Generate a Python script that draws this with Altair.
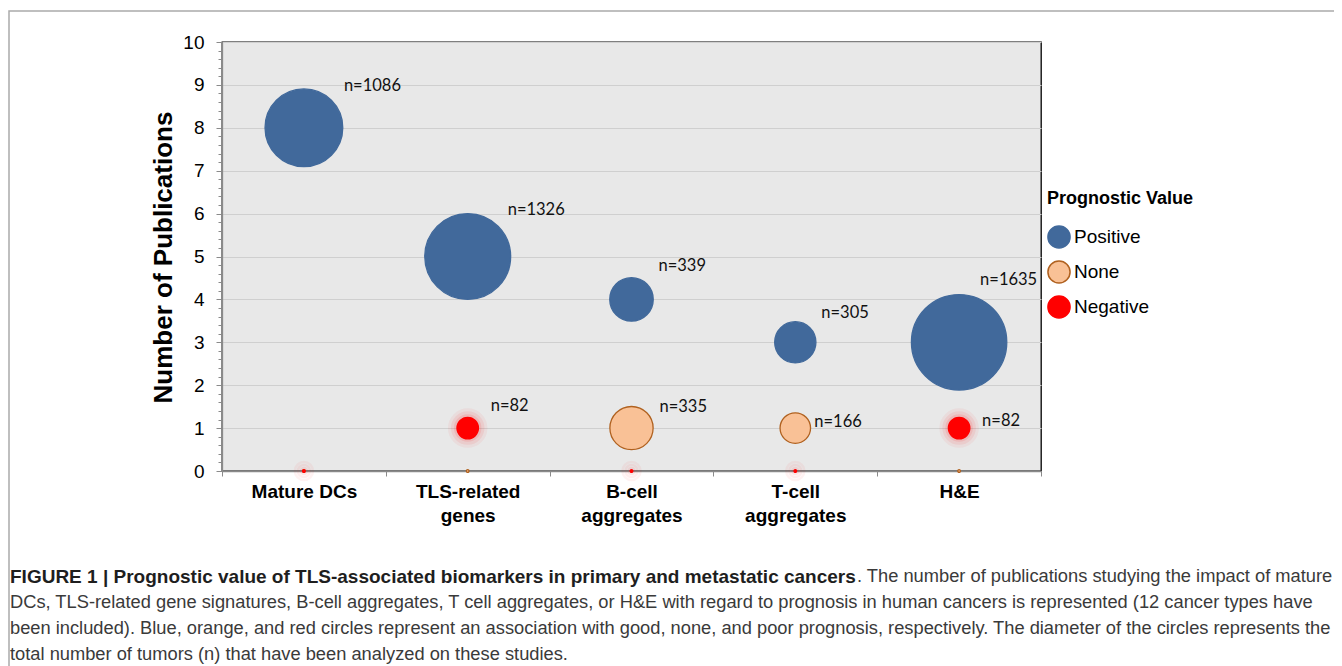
import altair as alt
import pandas as pd

# ---------------- data ----------------
categories = ["Mature DCs", "TLS-related\ngenes", "B-cell\naggregates", "T-cell\naggregates", "H&E"]
prognosis = ["Positive", "None", "Negative"]

pubs_positive = [8, 5, 4, 3, 3]
pubs_none = [0, 0, 1, 1, 0]
pubs_negative = [0, 1, 0, 0, 1]

tumors_positive = [1086, 1326, 339, 305, 1635]
tumors_none = [0, 0, 335, 166, 0]
tumors_negative = [0, 82, 0, 0, 82]

# label anchors (data units on the y axis) and horizontal nudges (px)
label_y_positive = [8.97, 6.08, 4.77, 3.68, 4.46]
label_dx_positive = [40, 40, 27, 26, 21]
label_y_none = [None, None, 1.50, 1.14, None]
label_dx_none = [0, 0, 28, 19, 0]
label_y_negative = [None, 1.515, None, None, 1.165]
label_dx_negative = [0, 23, 0, 0, 23]

caption_bold = "FIGURE 1 | Prognostic value of TLS-associated biomarkers in primary and metastatic cancers"
caption_lines = [
    ". The number of publications studying the impact of mature",
    "DCs, TLS-related gene signatures, B-cell aggregates, T cell aggregates, or H&E with regard to prognosis in human cancers is represented (12 cancer types have",
    "been included). Blue, orange, and red circles represent an association with good, none, and poor prognosis, respectively. The diameter of the circles represents the",
    "total number of tumors (n) that have been analyzed on these studies.",
]

y_tick_values = [i / 5 for i in range(51)]

# ---------------- tables ----------------
rows = []
labels = []
for prog, pubs, tum, ly, ldx in [
    ("Positive", pubs_positive, tumors_positive, label_y_positive, label_dx_positive),
    ("None", pubs_none, tumors_none, label_y_none, label_dx_none),
    ("Negative", pubs_negative, tumors_negative, label_y_negative, label_dx_negative),
]:
    for c, p, t, yy, dd in zip(categories, pubs, tum, ly, ldx):
        rows.append({"category": c, "prog": prog, "pubs": p, "n": t})
        if t > 0 and yy is not None:
            labels.append({"category": c, "pubs": yy, "dx": dd, "text": f"n={t}"})

df = pd.DataFrame(rows)

W, H = 819, 429
FONT = "Liberation Sans"

x_enc = alt.X(
    "category:N",
    sort=categories,
    scale=alt.Scale(domain=categories, paddingInner=0, paddingOuter=0),
    axis=alt.Axis(
        title=None,
        labelAngle=0,
        tickBand="extent",
        labelExpr="split(datum.label, '\\n')",
        labelFont=FONT,
        labelFontWeight="bold",
        labelFontSize=19,
        labelLineHeight=24,
        labelColor="#000000",
        labelPadding=6,
        tickSize=5,
        tickColor="#8a8a8a",
        domainColor="#8a8a8a",
        domainWidth=1.3,
        grid=False,
    ),
)

int_test = "abs(datum.value - round(datum.value)) < 0.001"
y_scale = alt.Scale(domain=[0, 10], nice=False, zero=True)
y_enc = alt.Y(
    "pubs:Q",
    scale=y_scale,
    axis=alt.Axis(
        title="Number of Publications",
        titleFont=FONT,
        titleFontSize=26,
        titleFontWeight="bold",
        titleColor="#000000",
        titleX=-59,
        titleY=215,
        titleAngle=-90,
        titleAlign="center",
        titleBaseline="middle",
        values=y_tick_values,
        labelExpr=f"{int_test} ? format(datum.value, '.0f') : ''",
        labelOverlap=False,
        labelFont=FONT,
        labelFontSize=19,
        labelColor="#000000",
        labelPadding=12,
        tickSize={"condition": {"test": int_test, "value": 6}, "value": 4},
        tickColor="#8a8a8a",
        domainColor="#8a8a8a",
        domainWidth=1.3,
        grid=True,
        gridColor="#cfcfcf",
        gridWidth=1,
        gridOpacity={"condition": {"test": int_test, "value": 1}, "value": 0},
    ),
)

size_enc = alt.Size(
    "n:Q",
    scale=alt.Scale(type="linear", domain=[0, 1635], range=[7, 9098]),
    legend=None,
)

legend = alt.Legend(
    title="Prognostic Value",
    orient="none",
    legendX=825,
    legendY=148,
    titleFont=FONT,
    titleFontSize=18,
    titleFontWeight="bold",
    titleColor="#000000",
    titlePadding=17,
    labelFont=FONT,
    labelFontSize=19,
    labelColor="#000000",
    labelOffset=3,
    symbolType="circle",
    symbolSize=490,
    symbolStrokeWidth=1.5,
    rowPadding=5,
    padding=0,
)

fill_enc = alt.Fill(
    "prog:N",
    sort=prognosis,
    scale=alt.Scale(domain=prognosis, range=["#41699b", "#f9c196", "#ff0000"]),
    legend=legend,
)
stroke_enc = alt.Stroke(
    "prog:N",
    sort=prognosis,
    scale=alt.Scale(domain=prognosis, range=["#41699b", "#b0611f", "#ff0000"]),
    legend=legend,
)

base = alt.Chart(df)

halos = []
for sw, op in [(18, 0.05), (12, 0.07), (6, 0.1)]:
    halos.append(
        base.transform_filter("datum.prog == 'Negative'")
        .mark_point(shape="circle", filled=False, color="#ff0000", strokeWidth=sw, strokeOpacity=op, opacity=1)
        .encode(x=x_enc, y=y_enc, size=size_enc)
    )

bubbles = base.mark_point(shape="circle", filled=True, opacity=1, strokeWidth=1.3).encode(
    x=x_enc, y=y_enc, size=size_enc, fill=fill_enc, stroke=stroke_enc
)

label_layers = []
for lab in labels:
    label_layers.append(
        alt.Chart(alt.Data(values=[lab]))
        .mark_text(align="left", baseline="middle", dx=lab["dx"], font="Lato", fontSize=16.5, color="#111111")
        .encode(x=x_enc, y=y_enc, text="text:N")
    )

one = alt.Data(values=[{"k": 1}])
CAP_FONT = "Liberation Sans"
cap_x = -212
cap_y0 = 535
cap_step = 26
cap_layers = [
    alt.Chart(one).mark_text(align="left", baseline="middle", font=CAP_FONT, fontSize=19, fontWeight="bold",
                             color="#1e1e1e", text=caption_bold).encode(x=alt.value(cap_x), y=alt.value(cap_y0)),
    alt.Chart(one).mark_text(align="left", baseline="middle", font=CAP_FONT, fontSize=18.3,
                             color="#3a3a3a", text=caption_lines[0]).encode(x=alt.value(857 - 222), y=alt.value(cap_y0)),
]
for i, line in enumerate(caption_lines[1:]):
    cap_layers.append(
        alt.Chart(one).mark_text(align="left", baseline="middle", font=CAP_FONT, fontSize=18.3,
                                 color="#3a3a3a", text=line).encode(x=alt.value(cap_x), y=alt.value(cap_y0 + cap_step * (i + 1)))
    )

border = alt.Chart(one).mark_rect(fill=None, stroke="#aaaaaa", strokeWidth=1.5).encode(
    x=alt.value(-213), x2=alt.value(1200), y=alt.value(-31), y2=alt.value(700)
)

chart = (
    alt.layer(*halos, bubbles, *label_layers, *cap_layers, border)
    .properties(
        width=W,
        height=H,
        autosize=alt.AutoSizeParams(type="none"),
        padding={"left": 214, "top": 34, "right": 293, "bottom": 195},
        background="#ffffff",
    )
    .configure_view(fill="#e8e8e8", stroke="#000000", strokeWidth=1.3)
)

chart.save("out.html", embed_options={"renderer": "svg", "actions": False})
